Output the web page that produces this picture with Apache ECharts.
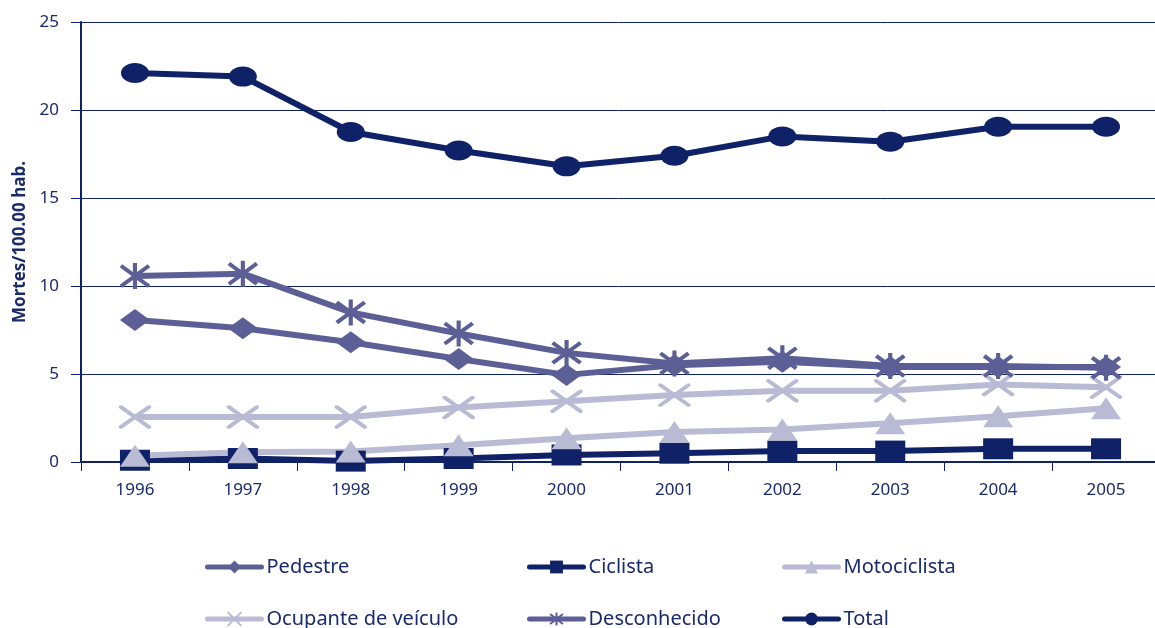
<!DOCTYPE html>
<html>
<head>
<meta charset="utf-8">
<script src="https://cdn.jsdelivr.net/npm/echarts@6/dist/echarts.min.js"></script>
<style>
  html, body { margin: 0; padding: 0; background: #fff; }
  #chart { width: 1155px; height: 628px; }
</style>
</head>
<body>
<div id="chart"></div>
<script>
  // dados
  const anos = ['1996', '1997', '1998', '1999', '2000', '2001', '2002', '2003', '2004', '2005'];
  const pedestre = [8.07, 7.6, 6.8, 5.85, 4.95, 5.5, 5.7, 5.4, 5.4, 5.4];
  const ciclista = [0.1, 0.2, 0.05, 0.2, 0.4, 0.5, 0.62, 0.62, 0.75, 0.75];
  const motociclista = [0.35, 0.55, 0.6, 0.95, 1.35, 1.7, 1.85, 2.2, 2.6, 3.05];
  const ocupante = [2.56, 2.56, 2.56, 3.1, 3.45, 3.8, 4.05, 4.05, 4.4, 4.25];
  const desconhecido = [10.57, 10.7, 8.5, 7.3, 6.2, 5.6, 5.9, 5.45, 5.45, 5.35];
  const total = [22.1, 21.9, 18.75, 17.7, 16.8, 17.4, 18.5, 18.2, 19.05, 19.05];

  const navy = '#0f2167';
  const roxo = '#5c5f96';
  const claro = '#b9bbd5';
  const texto = '#1a2a6c';
  const fonte = '"Noto Sans", sans-serif';

  const chart = echarts.init(document.getElementById('chart'));

  function linha(nome, dados, cor, symbol, size, extra) {
    return Object.assign({
      name: nome,
      type: 'line',
      data: dados,
      symbol: symbol,
      symbolSize: size,
      lineStyle: { color: cor, width: 6 },
      itemStyle: { color: cor },
      animation: false
    }, extra || {});
  }

  // uma legenda por item, para posicionar como no original
  function legenda(nome, left, top) {
    return {
      left: left,
      top: top,
      data: [nome],
      itemWidth: 54,
      itemHeight: 16,
      lineStyle: { width: 5, cap: 'round' },
      textStyle: { color: texto, fontSize: 20, fontFamily: fonte }
    };
  }

  chart.setOption({
    backgroundColor: '#ffffff',
    grid: {
      left: 81,
      top: 22,
      width: 1079,
      height: 440,
      outerBoundsMode: 'none'
    },
    legend: [
      legenda('Pedestre', 200, 552),
      legenda('Ciclista', 522, 552),
      legenda('Motociclista', 777, 552),
      legenda('Ocupante de veículo', 200, 604),
      legenda('Desconhecido', 522, 604),
      legenda('Total', 777, 604)
    ],
    xAxis: {
      type: 'category',
      data: anos,
      boundaryGap: true,
      axisLine: { show: true, lineStyle: { color: navy, width: 2 } },
      axisTick: { show: true, length: 9, lineStyle: { color: navy, width: 1 } },
      axisLabel: { color: texto, fontSize: 17, fontFamily: fonte, margin: 20 },
      splitLine: { show: false }
    },
    yAxis: {
      type: 'value',
      min: 0,
      max: 25,
      interval: 5,
      name: 'Mortes/100.00 hab.',
      nameLocation: 'middle',
      nameGap: 50,
      nameTextStyle: { color: texto, fontSize: 17, fontWeight: 'bold', fontFamily: fonte },
      axisLine: { show: true, lineStyle: { color: navy, width: 2 } },
      axisTick: { show: true, length: 10, lineStyle: { color: navy, width: 1 } },
      axisLabel: { color: texto, fontSize: 17, fontFamily: fonte, margin: 22 },
      splitLine: { show: true, lineStyle: { color: navy, width: 1 } }
    },
    series: [
      linha('Pedestre', pedestre, roxo, 'diamond', [30, 22]),
      linha('Ciclista', ciclista, navy, 'rect', [30, 21]),
      linha('Motociclista', motociclista, claro, 'triangle', [30, 22]),
      linha('Ocupante de veículo', ocupante, claro, 'path://M0,0L30,22M0,22L30,0', [28, 20], {
        itemStyle: { color: 'rgba(0,0,0,0)', borderColor: claro, borderWidth: 4, borderCap: 'round' }
      }),
      linha('Desconhecido', desconhecido, roxo, 'path://M0,3L30,25M0,25L30,3M15,0L15,28', [28, 26], {
        itemStyle: { color: 'rgba(0,0,0,0)', borderColor: roxo, borderWidth: 4 }
      }),
      linha('Total', total, navy, 'path://M0,10A14,10,0,1,1,28,10A14,10,0,1,1,0,10Z', [28, 20])
    ]
  });
</script>
</body>
</html>
